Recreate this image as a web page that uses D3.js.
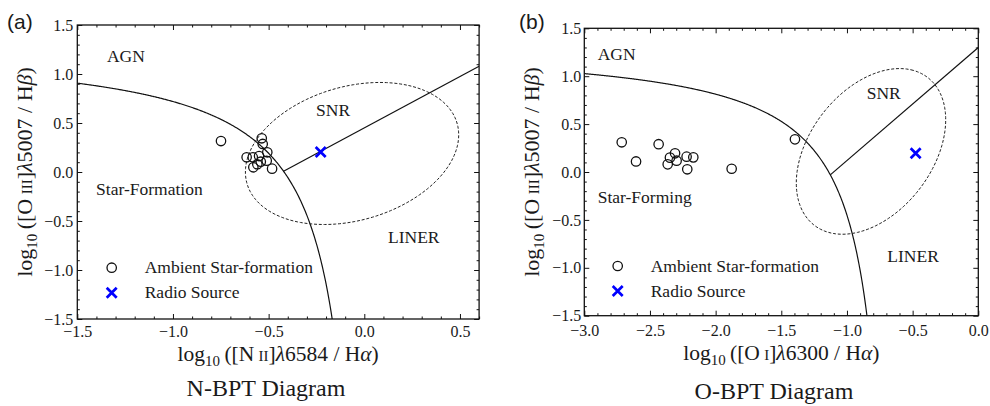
<!DOCTYPE html>
<html>
<head>
<meta charset="utf-8">
<script src="https://cdn.jsdelivr.net/npm/d3@7"></script>
<style>
body { margin: 0; background: #fff; }
svg text { font-family: "Liberation Serif", serif; fill: #1a1a1a; }
</style>
</head>
<body>
<svg id="fig" width="990" height="406"></svg>
<script>
// ambient star-formation regions
const nbptAmbientX = [-0.749, -0.536, -0.531, -0.615, -0.583, -0.550, -0.507, -0.541, -0.510, -0.580, -0.559, -0.482];
const nbptAmbientY = [0.316, 0.344, 0.286, 0.150, 0.150, 0.163, 0.201, 0.105, 0.115, 0.048, 0.079, 0.034];
const nbptRadio = [-0.228, 0.204];

const obptAmbientX = [-2.715, -2.606, -2.434, -2.365, -2.348, -2.309, -2.297, -2.221, -2.216, -2.170, -1.878, -1.396];
const obptAmbientY = [0.310, 0.110, 0.290, 0.080, 0.150, 0.195, 0.118, 0.160, 0.028, 0.153, 0.034, 0.341];
const obptRadio = [-0.477, 0.195];

const yTicks = [-1.5, -1.0, -0.5, 0.0, 0.5, 1.0, 1.5];
const nbptXTicks = [-1.5, -1.0, -0.5, 0.0, 0.5];
const obptXTicks = [-3.0, -2.5, -2.0, -1.5, -1.0, -0.5, 0.0];

// demarcation y = a/(x - b) + c  (Kauffmann+03 for N, Kewley+01 for O)
const nbptCurve = [0.61, 0.05, 1.30];
const obptCurve = [0.73, -0.59, 1.33];
// Seyfert/LINER line y = m*x + k, starting at xStart
const nbptLine = [1.05, 0.45, -0.422];
const obptLine = [1.18, 1.30, -1.127];
// SNR ellipse: cx, cy, semi-major, semi-minor, angle (deg, data units)
const nbptSNR = [-0.064, 0.189, 0.754, 0.517, 67.7];
const obptSNR = [-0.817, 0.215, 0.905, 0.502, 69.2];

const svg = d3.select("#fig");
const fmt = d3.format(".1f");
const serif = "'Liberation Serif', serif";

function drawPanel(p) {
    const x = d3.scaleLinear().domain(p.xDomain).range([p.left, p.right]);
    const y = d3.scaleLinear().domain([-1.5, 1.5]).range([p.bottom, p.top]);
    const g = svg.append("g");

    g.append("clipPath").attr("id", p.id + "clip")
        .append("rect")
        .attr("x", p.left).attr("y", p.top)
        .attr("width", p.right - p.left).attr("height", p.bottom - p.top);

    // minor ticks every 0.1
    const minor = function(dom) {
        return d3.range(Math.round(dom[0] * 10), Math.round(dom[1] * 10) + 1)
            .map(i => i / 10)
            .filter(v => Math.abs(v * 2 - Math.round(v * 2)) > 1e-6);
    };
    const xMinor = minor(p.xDomain), yMinor = minor([-1.5, 1.5]);

    const axes = [
        [d3.axisBottom(x).tickValues(p.xTicks).tickFormat(fmt).tickPadding(p.xPad), `translate(0,${p.bottom})`],
        [d3.axisBottom(x).tickValues(xMinor).tickFormat("").tickSizeInner(-2.5), `translate(0,${p.bottom})`],
        [d3.axisTop(x).tickValues(p.xTicks).tickFormat(""), `translate(0,${p.top})`],
        [d3.axisTop(x).tickValues(xMinor).tickFormat("").tickSizeInner(-2.5), `translate(0,${p.top})`],
        [d3.axisLeft(y).tickValues(yTicks).tickFormat(fmt).tickPadding(p.yPad), `translate(${p.left},0)`],
        [d3.axisLeft(y).tickValues(yMinor).tickFormat("").tickSizeInner(-2.5), `translate(${p.left},0)`],
        [d3.axisRight(y).tickValues(yTicks).tickFormat(""), `translate(${p.right},0)`],
        [d3.axisRight(y).tickValues(yMinor).tickFormat("").tickSizeInner(-2.5), `translate(${p.right},0)`]
    ];
    axes.forEach(function(a) {
        let ax = a[0];
        if (ax.tickSizeInner() === 6) ax.tickSizeInner(-5);
        ax.tickSizeOuter(0);
        const sel = g.append("g").attr("transform", a[1]).call(ax)
            .attr("font-family", serif).attr("font-size", 16);
        sel.select(".domain").remove();
        sel.selectAll("line").attr("stroke", "#111").attr("stroke-width", 1);
        sel.selectAll("text").attr("fill", "#333");
    });

    g.append("rect")
        .attr("x", p.left).attr("y", p.top)
        .attr("width", p.right - p.left).attr("height", p.bottom - p.top)
        .attr("fill", "none").attr("stroke", "#111").attr("stroke-width", 1.3);

    const inner = g.append("g").attr("clip-path", `url(#${p.id}clip)`);
    const line = d3.line().x(d => x(d[0])).y(d => y(d[1]));

    // demarcation curve
    const c = p.curve;
    const xEnd = c[1] + c[0] / (-1.6 - c[2]);
    const curvePts = d3.range(p.xDomain[0], xEnd, 0.004).concat([xEnd])
        .map(v => [v, c[0] / (v - c[1]) + c[2]]);
    inner.append("path").attr("d", line(curvePts))
        .attr("fill", "none").attr("stroke", "#111").attr("stroke-width", 1.2);

    // Seyfert / LINER line
    const l = p.line;
    inner.append("path")
        .attr("d", line([[l[2], l[0] * l[2] + l[1]], [p.xDomain[1], l[0] * p.xDomain[1] + l[1]]]))
        .attr("fill", "none").attr("stroke", "#111").attr("stroke-width", 1.2);

    // SNR ellipse
    const e = p.snr, th = e[4] * Math.PI / 180;
    const ellPts = d3.range(0, 2 * Math.PI, Math.PI / 90).map(t => [
        e[0] + e[2] * Math.cos(t) * Math.cos(th) - e[3] * Math.sin(t) * Math.sin(th),
        e[1] + e[2] * Math.cos(t) * Math.sin(th) + e[3] * Math.sin(t) * Math.cos(th)
    ]);
    inner.append("path").attr("d", line.curve(d3.curveLinearClosed)(ellPts))
        .attr("fill", "none").attr("stroke", "#222").attr("stroke-width", 1)
        .attr("stroke-dasharray", "3,1.8");
    line.curve(d3.curveLinear);

    // region labels
    p.regions.forEach(function(r) {
        g.append("text").attr("x", x(r[1])).attr("y", y(r[2]))
            .style("font-size", "17.5px").attr("fill", "#333").text(r[0]);
    });

    // ambient points
    inner.selectAll("circle.amb").data(d3.zip(p.ambX, p.ambY)).enter()
        .append("circle").attr("class", "amb")
        .attr("cx", d => x(d[0])).attr("cy", d => y(d[1])).attr("r", 4.7)
        .attr("fill", "none").attr("stroke", "#111").attr("stroke-width", 1.3);

    const cross = function(sel, cx, cy) {
        const s = 5;
        sel.append("path")
            .attr("d", `M${cx - s},${cy - s}L${cx + s},${cy + s}M${cx - s},${cy + s}L${cx + s},${cy - s}`)
            .attr("stroke", "#0000ff").attr("stroke-width", 2.7).attr("fill", "none");
    };
    cross(inner, x(p.radio[0]), y(p.radio[1]));

    // legend
    const lx = p.left + p.legend[0], ly = p.top + p.legend[1];
    g.append("circle").attr("cx", lx).attr("cy", ly).attr("r", 4.7)
        .attr("fill", "none").attr("stroke", "#111").attr("stroke-width", 1.3);
    cross(g, lx, ly + 25);
    g.append("text").attr("x", lx + 33).attr("y", ly + 5.5)
        .style("font-size", "17.5px").attr("fill", "#333").text("Ambient Star-formation");
    g.append("text").attr("x", lx + 33).attr("y", ly + 30.5)
        .style("font-size", "17.5px").attr("fill", "#333").text("Radio Source");

    // axis labels
    const xl = g.append("text")
        .attr("x", (p.left + p.right) / 2).attr("y", p.xLabelY)
        .attr("text-anchor", "middle").style("font-size", "21.5px").attr("fill", "#333");
    buildLabel(xl, p.xLabel);
    const yl = g.append("text")
        .attr("transform", `translate(${p.yLabelX},${(p.top + p.bottom) / 2}) rotate(-90)`)
        .attr("text-anchor", "middle").style("font-size", "22px").attr("fill", "#333");
    buildLabel(yl, ["O", "iii", "5007", "\u03b2"]);

    g.append("text").attr("x", p.titleX).attr("y", p.titleY)
        .attr("text-anchor", "middle").style("font-size", "24px").attr("fill", "#222")
        .text(p.title);
    g.append("text").attr("x", p.tagX).attr("y", 29)
        .style("font-family", "'Liberation Sans', Arial, sans-serif")
        .style("font-size", "21px").attr("fill", "#111").text(p.tag);
}

// log10 ([El ion]λwave / Hx)
function buildLabel(t, parts) {
    t.append("tspan").text("log");
    t.append("tspan").attr("dy", 5).style("font-size", "15px").text("10");
    t.append("tspan").attr("dy", -5).text("\u2009([" + parts[0] + "\u2009");
    t.append("tspan").style("font-variant", "small-caps").text(parts[1]);
    t.append("tspan").text("]");
    t.append("tspan").style("font-style", "italic").text("\u03bb");
    t.append("tspan").text(parts[2] + " / H");
    t.append("tspan").style("font-style", "italic").text(parts[3]);
    t.append("tspan").text(")");
}

drawPanel({
    id: "nbpt", left: 77.3, right: 479.1, top: 25, bottom: 319,
    xDomain: [-1.5, 0.6], xTicks: nbptXTicks, xPad: 7, yPad: 4,
    curve: nbptCurve, line: nbptLine, snr: nbptSNR,
    ambX: nbptAmbientX, ambY: nbptAmbientY, radio: nbptRadio,
    regions: [["AGN", -1.345, 1.119], ["Star-Formation", -1.402, -0.235],
              ["SNR", -0.252, 0.571], ["LINER", 0.124, -0.728]],
    legend: [34.4, 242.7],
    xLabel: ["N", "ii", "6584", "\u03b1"], xLabelY: 361, yLabelX: 32,
    title: "N-BPT Diagram", titleX: 266, titleY: 396, tag: "(a)", tagX: 7
});
drawPanel({
    id: "obpt", left: 584.3, right: 978.3, top: 28.3, bottom: 315.7,
    xDomain: [-3.0, 0.0], xTicks: obptXTicks, xPad: 9, yPad: 3,
    curve: obptCurve, line: obptLine, snr: obptSNR,
    ambX: obptAmbientX, ambY: obptAmbientY, radio: obptRadio,
    regions: [["AGN", -2.898, 1.169], ["Star-Forming", -2.898, -0.324],
              ["SNR", -0.85, 0.765], ["LINER", -0.693, -0.943]],
    legend: [33.4, 237.7],
    xLabel: ["O", "i", "6300", "\u03b1"], xLabelY: 360, yLabelX: 538.5,
    title: "O-BPT Diagram", titleX: 774, titleY: 399, tag: "(b)", tagX: 519
});
</script>
</body>
</html>
